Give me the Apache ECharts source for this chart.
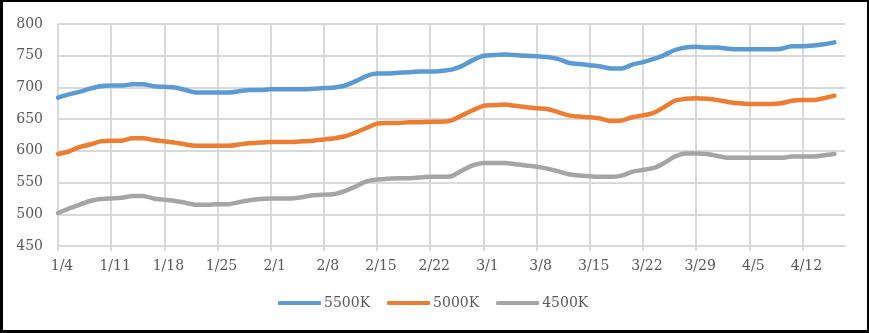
<!DOCTYPE html>
<html>
<head>
<meta charset="utf-8">
<script src="https://cdn.jsdelivr.net/npm/echarts@6/dist/echarts.min.js"></script>
<style>
  html, body { margin: 0; padding: 0; background: #fff; }
  #wrap { position: relative; width: 869px; height: 333px; }
  #chart { position: absolute; left: 0; top: 0; width: 869px; height: 333px; }
  #frame { position: absolute; left: 0; top: 0; width: 869px; height: 333px; box-sizing: border-box;
           border-style: solid; border-color: #000; border-width: 2px 2px 3px 3px; pointer-events: none; }
</style>
</head>
<body>
<div id="wrap">
  <div id="chart"></div>
  <div id="frame"></div>
</div>
<script>
// Trading days, 2021-01-04 .. 2021-04-16
const categories = [
  '1/4','1/5','1/6','1/7','1/8',
  '1/11','1/12','1/13','1/14','1/15',
  '1/18','1/19','1/20','1/21','1/22',
  '1/25','1/26','1/27','1/28','1/29',
  '2/1','2/2','2/3','2/4','2/5',
  '2/8','2/9','2/10','2/11','2/12',
  '2/15','2/16','2/17','2/18','2/19',
  '2/22','2/23','2/24','2/25','2/26',
  '3/1','3/2','3/3','3/4','3/5',
  '3/8','3/9','3/10','3/11','3/12',
  '3/15','3/16','3/17','3/18','3/19',
  '3/22','3/23','3/24','3/25','3/26',
  '3/29','3/30','3/31','4/1','4/2',
  '4/5','4/6','4/7','4/8','4/9',
  '4/12','4/13','4/14','4/15','4/16'
];

const seriesNames = ['5500K', '5000K', '4500K'];

const values5500K = [
  684, 689, 693, 698, 702, 703, 703, 705, 705, 702,
  701, 700, 696, 692, 692, 692, 692, 694, 696, 696,
  697, 697, 697, 697, 698, 699, 700, 703, 710, 718,
  722, 722, 723, 724, 725, 725, 726, 728, 734, 743,
  750, 751, 752, 751, 750, 749, 748, 745, 739, 737,
  735, 733, 730, 730, 736, 740, 745, 751, 759, 763,
  764, 763, 763, 761, 760, 760, 760, 760, 761, 765,
  765, 766, 768, 771, null
];

const values5000K = [
  595, 599, 606, 610, 615, 616, 616, 620, 620, 617,
  615, 613, 610, 608, 608, 608, 608, 610, 612, 613,
  614, 614, 614, 615, 616, 618, 620, 623, 629, 636,
  643, 644, 644, 645, 645, 646, 646, 648, 656, 664,
  671, 672, 673, 671, 669, 667, 666, 661, 656, 654,
  653, 651, 647, 648, 653, 656, 660, 669, 679, 682,
  683, 682, 680, 677, 675, 674, 674, 674, 675, 679,
  680, 680, 683, 687, null
];

const values4500K = [
  502, 509, 515, 521, 524, 525, 526, 529, 529, 525,
  523, 521, 518, 515, 515, 516, 516, 519, 522, 524,
  525, 525, 525, 527, 530, 531, 532, 537, 544, 552,
  555, 556, 557, 557, 558, 559, 559, 560, 569, 577,
  581, 581, 581, 579, 577, 575, 572, 568, 563, 561,
  560, 559, 559, 561, 567, 570, 573, 581, 591, 596,
  596, 595, 592, 589, 589, 589, 589, 589, 589, 591,
  591, 591, 593, 595, null
];

const colors = ['#5B9BD5', '#ED7D31', '#A5A5A5'];
const labelFont = 'DejaVu Serif';
const gridColor = '#d9d9d9';

const chart = echarts.init(document.getElementById('chart'), null, { renderer: 'canvas' });

function lineSeries(name, data, color) {
  return {
    name: name,
    type: 'line',
    data: data,
    smooth: 0.25,
    showSymbol: false,
    symbol: 'none',
    connectNulls: false,
    lineStyle: { color: color, width: 4.5, cap: 'round', join: 'round' },
    itemStyle: { color: color },
    emphasis: { disabled: true }
  };
}

chart.setOption({
  animation: false,
  color: colors,
  grid: { left: 58, right: 24, top: 24, bottom: 87 },
  legend: {
    data: seriesNames,
    left: 278,
    top: 296,
    padding: 0,
    icon: 'roundRect',
    itemWidth: 43,
    itemHeight: 4,
    itemGap: 17,
    textStyle: { color: '#595959', fontFamily: labelFont, fontSize: 14, padding: [0, 0, 0, -2] }
  },
  xAxis: {
    type: 'category',
    data: categories,
    boundaryGap: false,
    axisLine: { show: true, lineStyle: { color: gridColor, width: 2 } },
    axisTick: { show: true, interval: 4, length: 5, lineStyle: { color: gridColor, width: 2 } },
    splitLine: { show: true, interval: 4, lineStyle: { color: gridColor, width: 2 } },
    axisLabel: {
      interval: 4,
      margin: 13,
      color: '#595959',
      fontFamily: labelFont,
      fontSize: 14,
      padding: [0, 0, 0, 8]
    }
  },
  yAxis: {
    type: 'value',
    min: 450,
    max: 800,
    interval: 50,
    axisLine: { show: false },
    axisTick: { show: false },
    splitLine: { show: true, lineStyle: { color: gridColor, width: 2 } },
    axisLabel: { margin: 15, color: '#595959', fontFamily: labelFont, fontSize: 14 }
  },
  series: [
    lineSeries(seriesNames[0], values5500K, colors[0]),
    lineSeries(seriesNames[1], values5000K, colors[1]),
    lineSeries(seriesNames[2], values4500K, colors[2])
  ]
});
</script>
</body>
</html>
